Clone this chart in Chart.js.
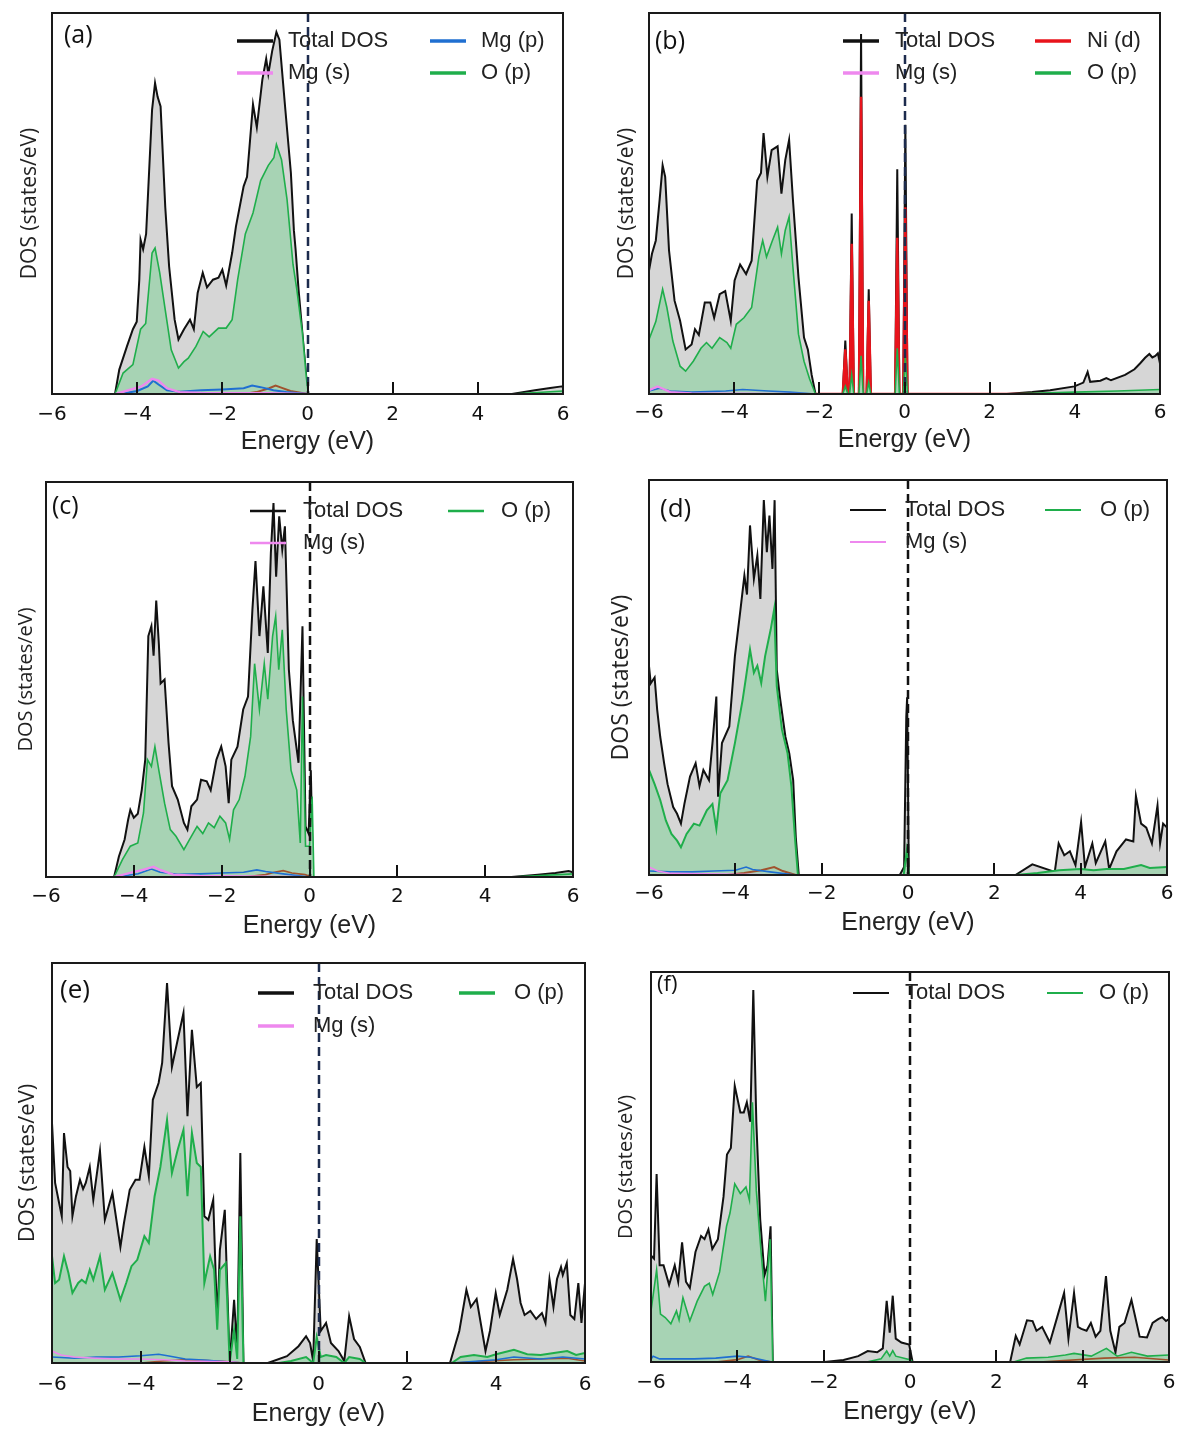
<!DOCTYPE html>
<html>
<head>
<meta charset="utf-8">
<script src="https://cdn.jsdelivr.net/npm/chart.js@4.4.1/dist/chart.umd.min.js"></script>
<style>
  html, body { margin: 0; padding: 0; background: #fff; }
  body { width: 1188px; height: 1442px; position: relative; overflow: hidden; }
  canvas { position: absolute; }
</style>
</head>
<body>
<script>
// energy ticks shared by all panels
const energyTicks = [-6, -4, -2, 0, 2, 4, 6];

// ---- panel (a) : [energy (eV), DOS in % of panel height] ----
const aTotal = [[-6,0],[-4.52,0],[-4.42,6.4],[-4.24,12.5],[-4.1,17],[-4.01,19],[-3.95,30],[-3.92,40.5],[-3.86,38],[-3.79,42],[-3.65,74.6],[-3.58,81.6],[-3.52,78],[-3.45,75.5],[-3.34,49],[-3.25,33.5],[-3.12,19.5],[-3.03,14.3],[-2.9,17],[-2.76,19.5],[-2.67,17],[-2.58,26.5],[-2.46,31.8],[-2.36,28],[-2.22,30],[-2.09,30.5],[-2.0,32.6],[-1.91,28.5],[-1.77,37],[-1.68,44],[-1.5,54.5],[-1.42,57],[-1.28,76],[-1.19,70],[-1.06,82.5],[-0.97,88],[-0.92,84],[-0.83,90],[-0.73,95],[-0.66,93],[-0.52,74.6],[-0.39,58],[-0.32,43],[-0.28,38],[-0.21,27.4],[-0.12,16],[-0.03,4.6],[0.02,0],[4.8,0],[5.34,1],[5.7,1.6],[5.97,2],[6,2]];
const aOp = [[-6,0],[-4.52,0],[-4.33,5.5],[-4.1,7.7],[-3.92,17],[-3.8,18.5],[-3.65,37],[-3.58,38.3],[-3.47,31.8],[-3.34,22],[-3.2,11.6],[-3.03,6.8],[-2.9,8.5],[-2.8,9.4],[-2.62,12.5],[-2.45,16.4],[-2.31,15],[-2.09,17.3],[-1.91,17.3],[-1.77,19.5],[-1.64,30],[-1.46,42],[-1.28,47.5],[-1.1,56],[-0.92,60],[-0.79,62],[-0.73,65.5],[-0.61,61.5],[-0.48,51],[-0.34,34],[-0.25,27.4],[-0.12,16],[-0.03,4.6],[0.02,0],[4.8,0],[6,0.8]];
const aMgS = [[-4.5,0],[-4.2,1],[-3.9,2],[-3.65,4],[-3.5,3.5],[-3.3,1.5],[-3.0,0.5],[-2.5,0.3],[-1,0.2],[0,0]];
const aMgP = [[-4.4,0],[-4.0,0.8],[-3.75,2],[-3.62,3.5],[-3.5,2.5],[-3.3,1],[-3.0,0.6],[-2.5,1],[-2,1.2],[-1.5,1.5],[-1.3,2.2],[-1.1,1.8],[-0.8,1],[-0.5,0.5],[0,0]];
const aOther = [[-1.5,0],[-1.2,0.5],[-0.9,1.5],[-0.75,2.2],[-0.6,1.6],[-0.4,0.8],[-0.1,0.2],[0,0]];

// ---- panel (b) ----
const bTotal = [[-6,32.4],[-5.93,36.8],[-5.84,40.3],[-5.75,51],[-5.68,60],[-5.62,57],[-5.53,37.7],[-5.4,24.5],[-5.27,19.2],[-5.14,11.7],[-5.0,13],[-4.92,17],[-4.83,15.5],[-4.69,24],[-4.56,24],[-4.47,20],[-4.34,26.2],[-4.21,27],[-4.08,19.2],[-3.99,29.8],[-3.86,34],[-3.72,31.5],[-3.59,35],[-3.46,56],[-3.37,58],[-3.31,68.5],[-3.22,57],[-3.12,64],[-2.98,65],[-2.89,52.6],[-2.8,61.4],[-2.71,66.7],[-2.62,51],[-2.49,30.6],[-2.36,14.8],[-2.27,11.7],[-2.18,5],[-2.09,0],[-1.45,0],[-1.39,14],[-1.33,0],[-1.29,0],[-1.24,47.4],[-1.19,0],[-1.07,0],[-1.02,94.5],[-0.97,0],[-0.89,0],[-0.84,27.5],[-0.79,0],[-0.22,0],[-0.17,59],[-0.12,0],[-0.03,0],[0.02,70.7],[0.07,0],[2.4,0],[3.0,0.5],[3.42,1],[3.99,2],[4.2,3],[4.3,5.8],[4.36,3.2],[4.6,3.5],[4.74,4.2],[4.85,3.6],[5.18,5],[5.4,6.5],[5.53,8],[5.65,9.5],[5.75,10.5],[5.82,9.6],[5.89,10],[5.95,10.7],[6,8]];
const bNid = [[-6,0],[-5.0,0.5],[-4.7,1.5],[-4.4,1.2],[-4.2,1.6],[-3.9,1.8],[-3.6,1],[-3.2,0.8],[-2.7,0.8],[-2.4,0],[-1.45,0],[-1.39,11.7],[-1.33,0],[-1.29,0],[-1.24,39.4],[-1.19,0],[-1.07,0],[-1.02,78],[-0.97,0],[-0.89,0],[-0.84,24.5],[-0.79,0],[-0.22,0],[-0.17,41],[-0.12,0],[-0.03,0],[0.02,49],[0.07,0],[6,0]];
const bOp = [[-6,14.3],[-5.84,19],[-5.68,27.5],[-5.58,22.7],[-5.44,13.9],[-5.27,7.3],[-5.14,6],[-4.96,8.6],[-4.78,12],[-4.65,13.5],[-4.52,12],[-4.34,14.8],[-4.17,13.5],[-4.08,12],[-3.95,18.3],[-3.77,20],[-3.59,22.7],[-3.42,36],[-3.33,40.3],[-3.24,36],[-3.11,40],[-2.98,43.8],[-2.89,36.8],[-2.8,43],[-2.71,46.5],[-2.62,33.3],[-2.49,15.7],[-2.36,8.6],[-2.23,4],[-2.09,0],[-1.45,0],[-1.39,2],[-1.33,0],[-1.29,0],[-1.24,5],[-1.19,0],[-1.07,0],[-1.02,10],[-0.97,0],[-0.89,0],[-0.84,3],[-0.79,0],[-0.22,0],[-0.17,12],[-0.12,0],[-0.03,0],[0.02,10],[0.07,0],[2.4,0],[4,0.5],[5,0.8],[6,1.2]];
const bMgS = [[-6,1],[-5.8,2],[-5.7,1.5],[-5.5,0.5],[-5,0.2],[-2.1,0]];
const bMgP = [[-6,0.8],[-5.75,1.5],[-5.5,0.8],[-5,0.5],[-4.2,0.8],[-3.8,1.2],[-3.2,0.8],[-2.7,0.5],[-2.1,0]];

// ---- panel (c) ----
const cTotal = [[-6,0],[-4.45,0],[-4.34,5.2],[-4.21,9.5],[-4.13,14.5],[-4.08,17],[-4.0,15],[-3.91,16],[-3.82,22],[-3.74,29.7],[-3.67,61],[-3.6,63.5],[-3.55,56],[-3.49,70],[-3.43,59],[-3.39,49],[-3.3,50],[-3.21,34],[-3.13,23],[-3.0,19.6],[-2.86,13.7],[-2.78,12],[-2.69,17.9],[-2.56,19.6],[-2.47,24.6],[-2.34,24.2],[-2.25,22],[-2.12,29.7],[-2.01,33],[-1.91,28],[-1.84,18.7],[-1.78,29.7],[-1.64,33],[-1.51,42.4],[-1.4,45.7],[-1.3,67.7],[-1.23,80],[-1.14,61],[-1.05,73.6],[-0.95,56.7],[-0.88,82],[-0.82,94.7],[-0.76,76],[-0.69,91.3],[-0.62,82.9],[-0.56,88.8],[-0.47,52.5],[-0.38,39.7],[-0.25,28.9],[-0.16,63.5],[-0.09,12.8],[-0.02,11],[0.03,27],[0.08,0],[4.6,0],[5.2,0.6],[5.6,1],[5.9,1.5],[6,1.2]];
const cOp = [[-6,0],[-4.45,0],[-4.26,4.4],[-4.08,7.8],[-3.91,8.6],[-3.78,16.2],[-3.69,29.7],[-3.6,28],[-3.52,33],[-3.43,27],[-3.3,18.7],[-3.17,12],[-3.04,10.3],[-2.86,6.9],[-2.73,9.5],[-2.56,12.8],[-2.43,11],[-2.3,13.7],[-2.17,12.5],[-2.04,15.4],[-1.91,13.7],[-1.82,9.5],[-1.73,17],[-1.6,19.6],[-1.47,25.5],[-1.34,35.6],[-1.25,54],[-1.14,42.4],[-1.03,54],[-0.95,45],[-0.84,61],[-0.77,66],[-0.7,52.5],[-0.62,62.6],[-0.53,42.4],[-0.42,27],[-0.29,22],[-0.21,8.6],[-0.16,45.7],[-0.09,7.8],[0.0,7.8],[0.06,20.4],[0.1,0],[4.6,0],[6,0.8]];
const cMgS = [[-4.45,0],[-4.1,1],[-3.8,1.8],[-3.55,2.6],[-3.4,1.8],[-3.1,0.6],[-2.5,0.3],[0,0]];
const cMgP = [[-4.4,0],[-3.9,0.8],[-3.6,2],[-3.4,1.2],[-3.0,0.7],[-2.5,0.8],[-2,1],[-1.5,1.2],[-1.2,1.8],[-1.0,1.4],[-0.6,0.8],[0,0]];
const cOther = [[-1.5,0],[-1.0,0.6],[-0.8,1.2],[-0.6,1.6],[-0.4,1.0],[-0.1,0.6],[0.05,0]];

// ---- panel (d) ----
const dTotal = [[-6,52.9],[-5.96,48.5],[-5.87,50],[-5.81,41.8],[-5.74,35],[-5.65,28.3],[-5.57,23],[-5.44,17.2],[-5.35,15.5],[-5.26,13],[-5.18,18],[-5.05,24.9],[-4.92,28.3],[-4.83,22.5],[-4.74,26.6],[-4.61,24],[-4.53,33.4],[-4.44,45.2],[-4.4,19.8],[-4.31,33.4],[-4.14,37.6],[-4.01,55.4],[-3.88,67.3],[-3.79,75.8],[-3.73,71],[-3.66,88.5],[-3.57,75],[-3.49,80.9],[-3.42,69.9],[-3.34,94.9],[-3.27,81.7],[-3.21,91],[-3.14,77.5],[-3.09,94.9],[-3.04,52],[-2.97,45.2],[-2.84,35],[-2.75,30.8],[-2.66,24],[-2.6,9.6],[-2.53,0],[-0.19,0],[-0.09,2],[-0.04,40],[-0.02,45],[0.02,0],[2.49,0],[2.88,2.7],[3.4,0.8],[3.49,8],[3.62,5],[3.75,6],[3.88,2.5],[4.01,13.4],[4.1,2],[4.27,8],[4.35,3],[4.57,8.5],[4.66,1.5],[4.83,6],[5.05,9],[5.22,8.5],[5.28,20],[5.4,13],[5.52,12],[5.65,8],[5.78,17.6],[5.84,8],[5.91,13],[6,12]];
const dOp = [[-6,26.6],[-5.87,23],[-5.74,19],[-5.61,13.8],[-5.48,10.4],[-5.35,8.7],[-5.26,7],[-5.13,10.4],[-4.96,13],[-4.83,12.5],[-4.66,16.4],[-4.53,18],[-4.44,11.7],[-4.35,20.6],[-4.18,24],[-4.01,33.4],[-3.83,44.4],[-3.75,50.3],[-3.66,57.1],[-3.57,51.2],[-3.49,53],[-3.4,48.6],[-3.31,55.4],[-3.18,62.2],[-3.1,67.3],[-3.04,47.8],[-2.92,36.8],[-2.79,30.8],[-2.7,22.3],[-2.62,9.6],[-2.55,0],[-0.1,0],[-0.03,6],[0.02,0],[2.5,0],[3.0,0.5],[3.5,1.2],[4.0,1.5],[4.3,1.2],[4.6,1.5],[5.0,1.5],[5.4,2.5],[5.6,1.8],[6,2]];
const dMgS = [[-6,2],[-5.8,1],[-5.5,0.4],[-4,0.2],[-2.6,0]];
const dMgP = [[-6,1],[-5.5,0.8],[-5,0.8],[-4.5,1],[-4,1.2],[-3.75,2],[-3.6,1.4],[-3.2,0.8],[-2.6,0]];
const dOther = [[-4.2,0],[-3.8,0.5],[-3.4,1.2],[-3.1,2],[-2.9,1],[-2.6,0]];

// ---- panel (e) ----
const eTotal = [[-6,60],[-5.93,45],[-5.84,40],[-5.78,36.7],[-5.73,57.5],[-5.65,49],[-5.59,48],[-5.54,36.7],[-5.46,41.7],[-5.37,45.8],[-5.3,43.5],[-5.24,45],[-5.15,49],[-5.07,40.8],[-4.92,53],[-4.81,35.8],[-4.64,42.5],[-4.46,29],[-4.38,35],[-4.25,43.3],[-4.12,45.8],[-4.03,45.8],[-3.92,54],[-3.82,46.7],[-3.73,65.8],[-3.6,70],[-3.52,75],[-3.41,95],[-3.3,74],[-3.17,80.8],[-3.04,87.5],[-2.95,61.7],[-2.85,83.3],[-2.74,69],[-2.65,70],[-2.57,36.7],[-2.48,35.8],[-2.37,40.8],[-2.28,10],[-2.22,28.3],[-2.11,38.3],[-2.0,0],[-1.9,15.8],[-1.83,3],[-1.76,52.5],[-1.69,0],[-1.14,0],[-0.71,1.7],[-0.45,4.2],[-0.28,6.7],[-0.19,5],[-0.12,0.5],[-0.04,31],[0.05,8],[0.17,10],[0.28,5],[0.45,3],[0.58,0.5],[0.69,11.7],[0.8,6],[0.93,4],[1.06,0],[2.96,0],[3.17,8],[3.33,18.3],[3.43,14],[3.56,16],[3.76,3],[3.86,8],[3.99,17.5],[4.08,12],[4.25,18.3],[4.38,26],[4.47,21],[4.55,15],[4.64,12],[4.77,13],[4.9,11],[5.03,12.5],[5.11,10],[5.2,21],[5.29,14],[5.37,21],[5.46,24],[5.5,22],[5.59,25],[5.67,12],[5.76,11],[5.85,20],[5.92,10],[6,20]];
const eOp = [[-6,26.7],[-5.93,20],[-5.84,20.8],[-5.73,26.7],[-5.63,22.5],[-5.54,17.5],[-5.41,20],[-5.33,20.8],[-5.24,20],[-5.15,23.3],[-5.07,20.8],[-4.92,26.7],[-4.81,18.3],[-4.64,22.5],[-4.46,15.8],[-4.33,20],[-4.21,24.2],[-4.08,25.8],[-3.92,31.7],[-3.82,30],[-3.69,41.7],[-3.56,49],[-3.41,60.8],[-3.3,47.5],[-3.17,53.3],[-3.04,58.3],[-2.95,41.7],[-2.85,57.5],[-2.74,50],[-2.65,49],[-2.57,20],[-2.44,26.7],[-2.35,23.3],[-2.28,8.3],[-2.22,23.3],[-2.09,25],[-2.0,0],[-1.9,8.3],[-1.83,1],[-1.76,36.7],[-1.69,0],[-0.9,0],[-0.62,0.5],[-0.28,1.5],[-0.12,0],[-0.04,6.5],[0.05,1.5],[0.17,2],[0.4,1.5],[0.58,0],[0.69,1.5],[0.93,1],[1.06,0],[3.0,0],[3.2,1.5],[3.5,2],[3.8,1.5],[4.0,2.2],[4.4,3.3],[4.7,2.2],[5.0,2],[5.3,2.5],[5.6,3],[5.8,2],[6,2.5]];
const eMgS = [[-6,3],[-5.8,2],[-5.5,1.5],[-5,1.2],[-4.5,1],[-4,1],[-3.5,0.8],[-3,0.5],[-2,0.3],[-1.7,0]];
const eMgP = [[-6,1.5],[-5.5,1.2],[-5,1.5],[-4.5,1.5],[-4,1.8],[-3.6,2.2],[-3.4,1.8],[-3,1],[-2.5,0.7],[-1.7,0],[3,0],[4,0.8],[4.4,1.5],[5,1],[5.5,1.5],[6,1]];
const eOther = [[-4,0],[-3.5,0.5],[-3,0.8],[-2.5,0.6],[-2,0.3],[-1.7,0],[3,0],[4.4,0.8],[5.6,1.2],[6,0.5]];

// ---- panel (f) ----
const fTotal = [[-6,27.3],[-5.93,26.5],[-5.87,48.2],[-5.8,24.8],[-5.71,24.8],[-5.58,19.8],[-5.45,24.8],[-5.37,20.6],[-5.28,30.7],[-5.19,20.6],[-5.1,19],[-4.97,28.2],[-4.84,32.3],[-4.76,31.5],[-4.67,34],[-4.58,29],[-4.45,31.5],[-4.32,42.4],[-4.24,53.2],[-4.15,54.9],[-4.06,70.8],[-3.93,64],[-3.85,64],[-3.78,66.6],[-3.7,61.6],[-3.63,95.4],[-3.56,61.6],[-3.47,36.5],[-3.37,22.3],[-3.3,24.8],[-3.23,34.8],[-3.18,0],[-1.98,0],[-1.54,0.5],[-1.2,1.5],[-0.98,2.8],[-0.76,2.5],[-0.63,3.5],[-0.54,15.7],[-0.47,7.5],[-0.4,17],[-0.33,6],[-0.2,5],[-0.02,4.5],[0.06,0],[2.32,0],[2.45,6.7],[2.54,4.5],[2.71,10.7],[2.84,10.5],[2.93,8],[3.06,9],[3.24,5],[3.41,11.5],[3.57,17.7],[3.67,6],[3.8,17.7],[3.89,9],[3.97,8.5],[4.09,8],[4.19,10],[4.3,6.5],[4.41,8],[4.54,22],[4.64,8],[4.76,2.5],[4.85,9],[4.97,10],[5.13,15.9],[5.32,6.5],[5.49,6.3],[5.62,10],[5.75,11],[5.84,11.5],[5.93,10.5],[6,11]];
const fOp = [[-6,13.1],[-5.87,23.6],[-5.78,12.3],[-5.67,11.4],[-5.54,9.8],[-5.41,13.1],[-5.35,10.8],[-5.26,16.5],[-5.1,10.6],[-4.93,15.6],[-4.76,19.4],[-4.65,20.2],[-4.57,17.3],[-4.41,23.1],[-4.25,34.8],[-4.17,38.2],[-4.06,45.7],[-3.93,43.2],[-3.8,44.9],[-3.72,41.5],[-3.65,66.6],[-3.56,44],[-3.45,28.2],[-3.35,15.6],[-3.24,31.5],[-3.18,0],[-1.0,0],[-0.67,0.8],[-0.54,2.8],[-0.47,1.5],[-0.4,2.9],[-0.33,1.5],[0.02,0.5],[0.06,0],[2.4,0],[2.7,1],[3.2,1.2],[3.6,1.8],[3.8,2.2],[4.2,1.5],[4.55,3.5],[4.8,1.5],[5.13,2.5],[5.5,1.5],[6,1.8]];
const fMgP = [[-6,0.8],[-5.95,1.5],[-5.8,0.8],[-5,0.8],[-4.5,1],[-4,1.5],[-3.7,1.2],[-3.2,0]];
const fOther = [[-4.5,0],[-4,0.6],[-3.75,1.5],[-3.5,0.5],[-3.2,0],[3,0],[4.5,1],[5.2,1.2],[6,0.5]];

// ---- styles ----
const COL = {
  total: '#111111', totalFill: '#d6d6d6',
  op: '#1fae4b', opFill: '#a7d3b4',
  mgs: '#ee88ee', mgp: '#1f6fd1', nid: '#e8141c', other: '#a0522d'
};

function series(data, color, opts) {
  return Object.assign({
    data: data.map(p => ({ x: p[0], y: p[1] })),
    borderColor: color, borderWidth: 1.6, pointRadius: 0,
    tension: 0, fill: false, order: 1
  }, opts || {});
}

const panels = [
  { box: [52, 13, 563, 394], label: '(a)', labelAt: [12, 23], labelSize: 25, yTitleX: 30, yTitleSize: 21,
    tickY: 415, xTitleY: 442, zero: '#1c2b4d',
    legend: { x: [185, 378], rows: [28, 60], gap: 51, lw: 3.5 },
    keys: [['Total DOS', COL.total, 0, 0], ['Mg (s)', COL.mgs, 0, 1], ['Mg (p)', COL.mgp, 1, 0], ['O (p)', COL.op, 1, 1]],
    sets: [series(aTotal, COL.total, { fill: 'origin', backgroundColor: COL.totalFill, order: 5, borderWidth: 2 }),
           series(aOp, COL.op, { fill: 'origin', backgroundColor: COL.opFill, order: 4 }),
           series(aMgS, COL.mgs, { borderWidth: 2.4 }), series(aMgP, COL.mgp, { borderWidth: 2 }), series(aOther, COL.other, { borderWidth: 2 })] },
  { box: [649, 13, 1160, 394], label: '(b)', labelAt: [6, 29], labelSize: 25, yTitleX: 627, yTitleSize: 21,
    tickY: 413, xTitleY: 440, zero: '#1c2b4d',
    legend: { x: [194, 386], rows: [28, 60], gap: 52, lw: 3.5 },
    keys: [['Total DOS', COL.total, 0, 0], ['Mg (s)', COL.mgs, 0, 1], ['Ni (d)', COL.nid, 1, 0], ['O (p)', COL.op, 1, 1]],
    sets: [series(bTotal, COL.total, { fill: 'origin', backgroundColor: COL.totalFill, order: 5, borderWidth: 2 }),
           series(bNid, COL.nid, { fill: 'origin', backgroundColor: COL.nid, order: 3, borderWidth: 2.4 }),
           series(bOp, COL.op, { fill: 'origin', backgroundColor: COL.opFill, order: 2 }),
           series(bMgS, COL.mgs, { borderWidth: 2.2 }), series(bMgP, COL.mgp)] },
  { box: [46, 482, 573, 877], label: '(c)', labelAt: [6, 25], labelSize: 25, yTitleX: 26, yTitleSize: 20,
    tickY: 897, xTitleY: 926, zero: '#111111',
    legend: { x: [204, 402], rows: [29, 61], gap: 53, lw: 2.5 },
    keys: [['Total DOS', COL.total, 0, 0], ['Mg (s)', COL.mgs, 0, 1], ['O (p)', COL.op, 1, 0]],
    sets: [series(cTotal, COL.total, { fill: 'origin', backgroundColor: COL.totalFill, order: 5, borderWidth: 2 }),
           series(cOp, COL.op, { fill: 'origin', backgroundColor: COL.opFill, order: 4 }),
           series(cMgS, COL.mgs, { borderWidth: 2.2 }), series(cMgP, COL.mgp), series(cOther, COL.other)] },
  { box: [649, 480, 1167, 875], label: '(d)', labelAt: [11, 30], labelSize: 26, yTitleX: 621, yTitleSize: 23,
    tickY: 894, xTitleY: 923, zero: '#111111',
    legend: { x: [201, 396], rows: [30, 62], gap: 55, lw: 2 },
    keys: [['Total DOS', COL.total, 0, 0], ['Mg (s)', COL.mgs, 0, 1], ['O (p)', COL.op, 1, 0]],
    sets: [series(dTotal, COL.total, { fill: 'origin', backgroundColor: COL.totalFill, order: 5, borderWidth: 2 }),
           series(dOp, COL.op, { fill: 'origin', backgroundColor: COL.opFill, order: 4, borderWidth: 2 }),
           series(dMgS, COL.mgs), series(dMgP, COL.mgp), series(dOther, COL.other, { borderWidth: 2 })] },
  { box: [52, 963, 585, 1363], label: '(e)', labelAt: [8, 28], labelSize: 26, yTitleX: 28, yTitleSize: 22,
    tickY: 1385, xTitleY: 1414, zero: '#1c2b4d',
    legend: { x: [206, 407], rows: [30, 63], gap: 55, lw: 3.5 },
    keys: [['Total DOS', COL.total, 0, 0], ['Mg (s)', COL.mgs, 0, 1], ['O (p)', COL.op, 1, 0]],
    sets: [series(eTotal, COL.total, { fill: 'origin', backgroundColor: COL.totalFill, order: 5, borderWidth: 2 }),
           series(eOp, COL.op, { fill: 'origin', backgroundColor: COL.opFill, order: 4, borderWidth: 2 }),
           series(eMgS, COL.mgs), series(eMgP, COL.mgp), series(eOther, COL.other)] },
  { box: [651, 972, 1169, 1362], label: '(f)', labelAt: [6, 13], labelSize: 22, yTitleX: 626, yTitleSize: 20,
    tickY: 1383, xTitleY: 1412, zero: '#111111',
    legend: { x: [202, 396], rows: [21], gap: 52, lw: 2 },
    keys: [['Total DOS', COL.total, 0, 0], ['O (p)', COL.op, 1, 0]],
    sets: [series(fTotal, COL.total, { fill: 'origin', backgroundColor: COL.totalFill, order: 5, borderWidth: 2 }),
           series(fOp, COL.op, { fill: 'origin', backgroundColor: COL.opFill, order: 4 }),
           series(fMgP, COL.mgp), series(fOther, COL.other)] }
];

// frame, inward ticks, Fermi level, legend and panel label
const decor = {
  id: 'decor',
  afterDatasetsDraw(chart, args, o) {
    const { ctx, chartArea: a, scales: { x } } = chart;
    ctx.save();
    // Fermi level
    ctx.strokeStyle = o.zero; ctx.lineWidth = 2.5; ctx.setLineDash([9, 5]);
    const x0 = Math.round(x.getPixelForValue(0));
    ctx.beginPath(); ctx.moveTo(x0, a.top); ctx.lineTo(x0, a.bottom); ctx.stroke();
    ctx.setLineDash([]);
    // inward ticks
    ctx.strokeStyle = '#111'; ctx.lineWidth = 2;
    energyTicks.slice(1, -1).forEach(v => {
      const px = Math.round(x.getPixelForValue(v));
      ctx.beginPath(); ctx.moveTo(px, a.bottom); ctx.lineTo(px, a.bottom - 12); ctx.stroke();
    });
    // frame
    ctx.strokeStyle = '#1a1a1a'; ctx.lineWidth = 2;
    ctx.strokeRect(a.left, a.top, a.right - a.left, a.bottom - a.top);
    // legend
    ctx.font = '22px "Liberation Sans", Arial, sans-serif';
    ctx.textBaseline = 'middle'; ctx.textAlign = 'left';
    o.keys.forEach(k => {
      const lx = a.left + o.legend.x[k[2]], ly = a.top + o.legend.rows[k[3]];
      ctx.strokeStyle = k[1]; ctx.lineWidth = o.legend.lw;
      ctx.beginPath(); ctx.moveTo(lx, ly); ctx.lineTo(lx + 36, ly); ctx.stroke();
      ctx.fillStyle = '#222';
      ctx.fillText(k[0], lx + o.legend.gap, ly);
    });
    // panel label
    ctx.font = o.labelSize + 'px "Open Sans", sans-serif';
    ctx.fillStyle = '#111';
    ctx.fillText(o.label, a.left + o.labelAt[0], a.top + o.labelAt[1]);
    ctx.restore();
  }
};

function makePanel(p) {
  const [l, t, r, b] = p.box;
  const yw = 48, padT = 8, padR = 22, xh = 66;
  const cv = document.createElement('canvas');
  cv.width = r - l + yw + padR;
  cv.height = b - t + padT + xh;
  cv.style.left = (l - yw) + 'px';
  cv.style.top = (t - padT) + 'px';
  document.body.appendChild(cv);

  const yLine = p.yTitleSize * 1.2;
  const xLine = 25 * 1.2;
  new Chart(cv, {
    type: 'line',
    data: { datasets: p.sets },
    options: {
      responsive: false, animation: false, devicePixelRatio: 1,
      layout: { padding: { left: 0, top: padT, right: padR, bottom: 0 } },
      plugins: {
        legend: { display: false }, tooltip: { enabled: false },
        decor: p
      },
      scales: {
        x: {
          type: 'linear', min: -6, max: 6,
          afterBuildTicks: s => { s.ticks = energyTicks.map(v => ({ value: v })); },
          afterFit: s => { s.height = xh; },
          grid: { display: false, drawTicks: false },
          border: { display: false },
          ticks: {
            color: '#111', padding: p.tickY - b - 12, maxRotation: 0, autoSkip: false,
            font: { family: 'DejaVu Sans', size: 20 },
            callback: v => (v < 0 ? '\u2212' : '') + Math.abs(v)
          },
          title: {
            display: true, text: 'Energy (eV)', color: '#222',
            font: { family: 'Liberation Sans', size: 25 },
            padding: { top: 0, bottom: b + xh - p.xTitleY - xLine / 2 }
          }
        },
        y: {
          min: 0, max: 100,
          afterFit: s => { s.width = yw; },
          grid: { display: false, drawTicks: false },
          border: { display: false },
          ticks: { display: false },
          title: {
            display: true, text: 'DOS (states/eV)', color: '#222',
            font: { family: 'Open Sans', size: p.yTitleSize },
            padding: { top: p.yTitleX - (l - yw) - yLine / 2, bottom: 0 }
          }
        }
      }
    },
    plugins: [decor]
  });
}

panels.forEach(makePanel);
</script>
</body>
</html>
